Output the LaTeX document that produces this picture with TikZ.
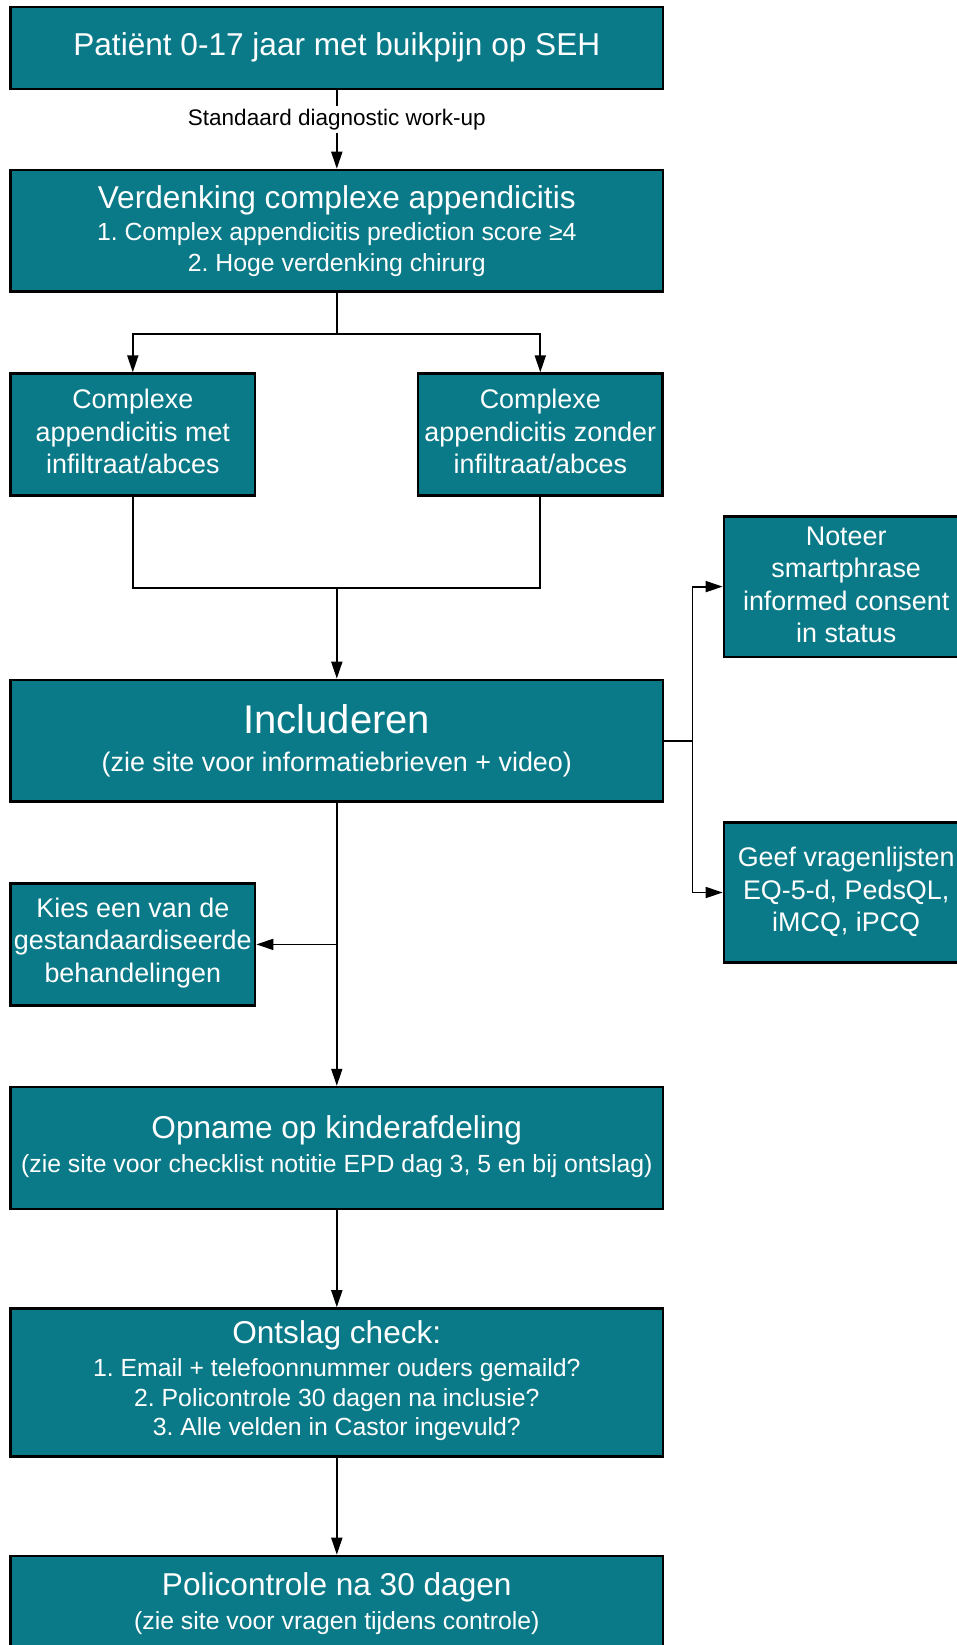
\documentclass[tikz,border=0pt]{standalone}
\usepackage{fontspec}
\setmainfont{Liberation Sans}
\usetikzlibrary{arrows.meta}
\definecolor{tealbox}{RGB}{11,122,136}
\newcommand\fTitle{\fontsize{31.6}{38}\selectfont}
\newcommand\fBig{\fontsize{40}{48}\selectfont}
\newcommand\fSub{\fontsize{24.8}{29.6}\selectfont}
\newcommand\fSmall{\fontsize{26.9}{32.5}\selectfont}
\newcommand\fLabel{\fontsize{22.5}{27}\selectfont}
\newcommand\dstrut[1]{\rule[-#1]{0pt}{#1}}
\frenchspacing
\begin{document}
\begin{tikzpicture}[x=1pt,y=-1pt,
  box/.style={draw=black, line width=2.6pt, fill=tealbox, text=white, align=center, inner sep=0pt},
  wide/.style={box, minimum width=652.5pt},
  narrow/.style={box, minimum width=244.5pt},
  conn/.style={line width=1.8pt, -{Triangle[length=17pt,width=11pt]}},
  plain/.style={line width=1.8pt},
  lbl/.style={fill=white, text=black, font=\fLabel, inner sep=3pt}]
\useasboundingbox (0,0) rectangle (957,1645);
\clip (0,0) rectangle (957,1645);

\node[wide, minimum height=82pt, font=\fTitle] (b1) at (336.8,48.2) {Patiënt 0-17 jaar met buikpijn op SEH\dstrut{9pt}};
\node[wide, minimum height=121.7pt, font=\fSub] (b2) at (336.8,230.9)
  {{\fTitle Verdenking complexe appendicitis}\\[3pt]1. Complex appendicitis prediction score ≥4\\[1pt]2. Hoge verdenking chirurg};
\node[narrow, minimum height=121.7pt, font=\fSmall] (b3) at (132.8,434.5) {Complexe\\appendicitis met\\infiltraat/abces\dstrut{6pt}};
\node[narrow, minimum height=121.7pt, font=\fSmall] (b4) at (540.3,434.5) {Complexe\\appendicitis zonder\\infiltraat/abces\dstrut{6pt}};
\node[wide, minimum height=121.7pt, font=\fSmall] (b5) at (336.8,740.8)
  {{\fBig Includeren}\\[5pt](zie site voor informatiebrieven + video)};
\node[narrow, minimum height=140.6pt, font=\fSmall] (b6) at (846.2,586.6) {Noteer\\smartphrase\\informed consent\\in status\dstrut{4pt}};
\node[narrow, minimum height=139.5pt, font=\fSmall] (b7) at (846.2,892.5) {Geef vragenlijsten\\EQ-5-d, PedsQL,\\iMCQ, iPCQ\dstrut{6pt}};
\node[narrow, minimum height=121.7pt, font=\fSmall] (kies) at (132.8,944.4) {Kies een van de\\gestandaardiseerde\\behandelingen\dstrut{9pt}};
\node[wide, minimum height=121.8pt, font=\fSub] (b8) at (336.8,1148)
  {{\fTitle Opname op kinderafdeling}\\[3.5pt](zie site voor checklist notitie EPD dag 3, 5 en bij ontslag)\dstrut{8pt}};
\node[wide, minimum height=148pt, font=\fSub] (b9) at (336.8,1382.5)
  {{\fTitle Ontslag check:}\\[3.5pt]1. Email + telefoonnummer ouders gemaild?\\2. Policontrole 30 dagen na inclusie?\\3. Alle velden in Castor ingevuld?\dstrut{9pt}};
\node[wide, minimum height=98pt, font=\fSub] (b10) at (336.8,1605)
  {{\fTitle Policontrole na 30 dagen}\\[3.5pt](zie site voor vragen tijdens controle)\dstrut{8pt}};

\coordinate (split) at (336.8,333.7);
\coordinate (join) at (336.8,587.6);
\coordinate (trunk) at (692.5,740.8);
\coordinate (tap) at (b5.south |- kies.east);

\draw[conn] (b1.south) -- node[lbl, pos=0.37] {Standaard diagnostic work-up} (b2.north);
\draw[plain] (b2.south) -- (split);
\draw[conn] (split) -| (b3.north);
\draw[conn] (split) -| (b4.north);
\draw[plain] (b3.south) |- (join);
\draw[plain] (b4.south) |- (join);
\draw[conn] (join) -- (b5.north);
\draw[plain] (b5.east) -- (trunk);
\draw[conn] (trunk) |- (b6.west);
\draw[conn] (trunk) |- (b7.west);
\draw[conn] (b5.south) -- (b8.north);
\draw[conn] (tap) -- (kies.east);
\draw[conn] (b8.south) -- (b9.north);
\draw[conn] (b9.south) -- (b10.north);
\end{tikzpicture}
\end{document}
